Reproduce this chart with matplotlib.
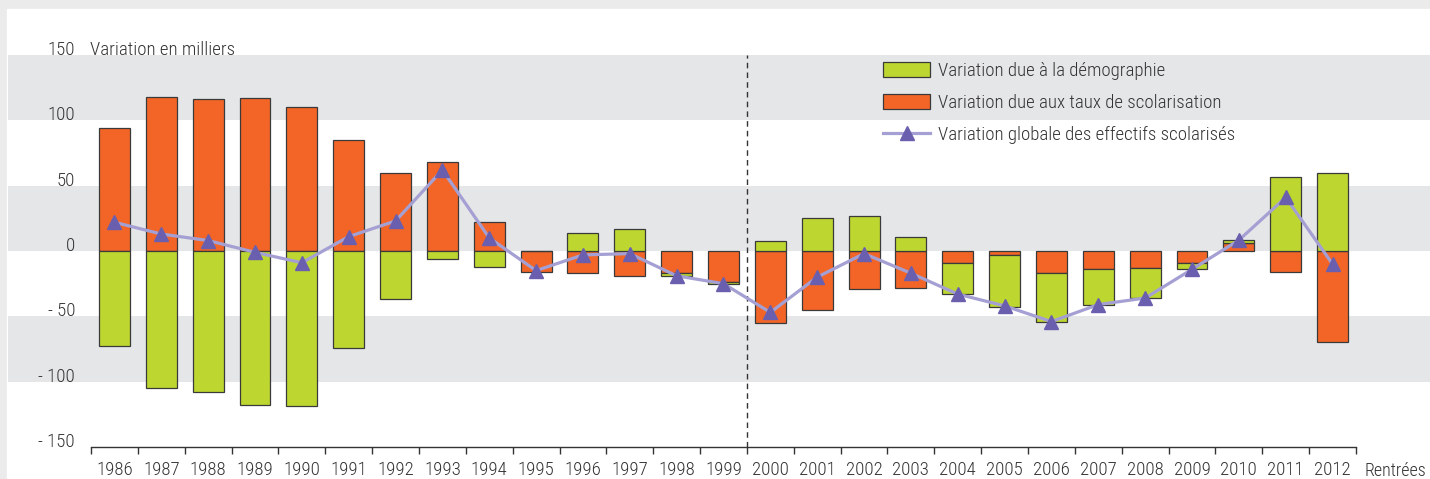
import numpy as np
import matplotlib
matplotlib.use("Agg")
import matplotlib.pyplot as plt
from matplotlib import font_manager
from matplotlib.patches import Patch, Rectangle
from matplotlib.lines import Line2D

# Data (thousands of pupils)
years = [str(y) for y in range(1986, 2013)]
demographie = [-73, -105, -108, -118, -119, -74, -37, -6, -12, 0, 14, 17, -2, -1.5,
               8, 25, 27, 11, -24, -39.5, -37, -27, -23, -5, 1.8, 57, 60]
taux = [94, 118, 116, 117, 110, 85, 60, 68, 22, -16, -17, -19, -17, -23.5,
        -55, -45, -29, -28, -9, -3, -17, -14, -13, -9, 6.5, -16, -70]
globale = [22, 13, 8, -1, -9, 11, 23, 62, 10, -15, -3, -2, -19, -25,
           -47, -20, -2, -17, -33, -42, -54, -41, -36, -14, 8.3, 41, -10]
yticks = [-150, -100, -50, 0, 50, 100, 150]
ytick_labels = ["- 150", "- 100", "- 50", "0", "50", "100", "150"]

# a condensed face is closest to the original typeface
names = {f.name for f in font_manager.fontManager.ttflist}
font = next((f for f in ["Roboto Condensed", "Archivo Narrow", "Pragati Narrow",
                         "Barlow Semi Condensed", "Liberation Sans"] if f in names))
plt.rcParams["font.family"] = [font, "DejaVu Sans"]
plt.rcParams["font.size"] = 13.6
plt.rcParams["font.weight"] = "light"

GREEN = "#bdd630"
ORANGE = "#f26527"
LINE = "#a5a0d3"
MARK = "#6a5fae"
BAND = "#e5e6e8"
EDGE = "#3a3a3a"
TXT = "#333333"

W, H = 1430, 479
fig = plt.figure(figsize=(W / 100, H / 100), dpi=100)
fig.patch.set_facecolor("#ebebeb")
fig.add_artist(Rectangle((7 / W, 0), 1, 1 - 9 / H, transform=fig.transFigure,
                         color="white", zorder=-10))

ax_l, ax_r, ax_t, ax_b = 91, 1356, 55, 447
ax = fig.add_axes([ax_l / W, 1 - ax_b / H, (ax_r - ax_l) / W, (ax_b - ax_t) / H])
ax.set_facecolor("none")

x = np.arange(len(years))
demo = np.array(demographie, dtype=float)
tx = np.array(taux, dtype=float)
demo_bottom = np.where(np.sign(demo) == np.sign(tx), tx, 0.0)

# grey bands extending past the plotting area
span = ax_r - ax_l
for lo, hi in [(100, 150), (0, 50), (-100, -50)]:
    ax.axhspan(lo, hi, xmin=-(ax_l - 8) / span, xmax=1 + (W - ax_r) / span,
               color=BAND, zorder=0, clip_on=False, lw=0)

ax.bar(x, tx, width=0.66, color=ORANGE, edgecolor=EDGE, lw=0.9, zorder=2)
ax.bar(x, demo, bottom=demo_bottom, width=0.66, color=GREEN, edgecolor=EDGE, lw=0.9, zorder=2)
ax.plot(x, globale, color=LINE, lw=2.3, marker="^", ms=10, mfc=MARK, mec=MARK, zorder=5)

ax.vlines(13.5, -150, 150, colors="#333333", linestyles=(0, (4, 3)), lw=1, zorder=3)

ax.set_xlim(-0.5, len(years) - 0.5)
ax.set_ylim(-150, 150)
for s in ["top", "right", "left"]:
    ax.spines[s].set_visible(False)
ax.spines["bottom"].set_color("#333333")
ax.spines["bottom"].set_linewidth(1.0)

ax.set_xticks(np.arange(-0.5, len(years), 1))
ax.set_xticklabels([])
ax.tick_params(axis="x", which="major", length=5, width=1, color="#333333", direction="out")
ax.set_xticks(x, minor=True)
ax.set_xticklabels(years, minor=True)
ax.tick_params(axis="x", which="minor", length=0, pad=10, labelcolor=TXT)

ax.set_yticks(yticks)
ax.set_yticklabels(ytick_labels)
ax.tick_params(axis="y", length=0, pad=11.5, labelcolor=TXT)
for lab in ax.get_yticklabels():
    lab.set_va("baseline")

ax.text(-1 / span, 150, "Variation en milliers", transform=ax.get_yaxis_transform(),
        ha="left", va="baseline", color=TXT)
ax.text(1 + 9 / span, -(476 - ax_b) / (ax_b - ax_t), "Rentrées", fontsize=13,
        transform=ax.transAxes, ha="left", va="baseline", color=TXT)

handles = [
    Patch(facecolor=GREEN, edgecolor=EDGE, lw=0.9),
    Patch(facecolor=ORANGE, edgecolor=EDGE, lw=0.9),
    Line2D([], [], color=LINE, lw=2.3, marker="^", ms=10, mfc=MARK, mec=MARK),
]
labels = ["Variation due à la démographie",
          "Variation due aux taux de scolarisation",
          "Variation globale des effectifs scolarisés"]
leg = fig.legend(handles, labels, loc="upper left", bbox_to_anchor=(883 / W, 1 - 62 / H),
                 frameon=False, borderpad=0, borderaxespad=0, handlelength=2.5,
                 handleheight=0.86, handletextpad=0.43, labelspacing=0.72, fontsize=13.6)
for t in leg.get_texts():
    t.set_color(TXT)

fig.savefig("out.png", dpi=100)
